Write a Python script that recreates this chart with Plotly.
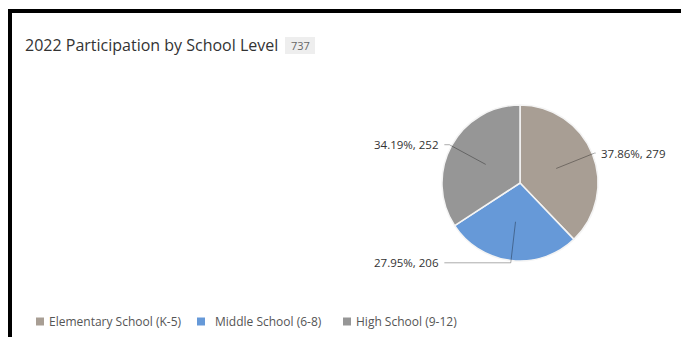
import math
import plotly.graph_objects as go

# ---- data ----
categories = ["Elementary School (K-5)", "Middle School (6-8)", "High School (9-12)"]
participants = [279, 206, 252]
colors = ["#a89e94", "#6699d8", "#969696"]
title_text = "2022 Participation by School Level"

total = sum(participants)

# ---- canvas geometry (pixels) ----
W, H = 681, 337
cx, cy, R = 520, 183, 78          # pie centre and radius
FONT = "Open Sans, Noto Sans, sans-serif"


def px(x):
    return x / W


def py(y):
    return 1 - y / H


fig = go.Figure(
    go.Pie(
        labels=categories,
        values=participants,
        marker=dict(colors=colors, line=dict(color="#f4f4f4", width=1.5)),
        sort=False,
        direction="clockwise",
        rotation=0,
        textinfo="none",
        hovertemplate="%{label}: %{value} (%{percent})<extra></extra>",
        domain=dict(x=[px(cx - R), px(cx + R)], y=[py(cy + R), py(cy - R)]),
        showlegend=False,
    )
)

shapes = []
annotations = []

# ---- leader lines and value labels, placed from each slice's mid-angle ----
cum = 0
for name, v in zip(categories, participants):
    theta = 2 * math.pi * (cum + v / 2) / total
    cum += v
    s, c = math.sin(theta), math.cos(theta)
    x_in, y_in = cx + 0.5 * R * s, cy - 0.5 * R * c
    x_out, y_out = cx + 1.03 * R * s, cy - 1.03 * R * c
    right = s > 0
    x_end = max(x_out, cx + 0.97 * R) if right else min(x_out, cx - 0.97 * R)
    line_style = dict(color="rgba(0,0,0,0.33)", width=1)
    shapes.append(dict(type="path", xref="paper", yref="paper",
                       path=f"M{px(x_in)},{py(y_in)} L{px(x_out)},{py(y_out)} L{px(x_end)},{py(y_out)}",
                       line=line_style))
    pct = 100 * v / total
    annotations.append(dict(
        text=f"{pct:.2f}%, {v}", xref="paper", yref="paper",
        x=px(x_end + (3 if right else -3)), y=py(y_out),
        xanchor="left" if right else "right", yanchor="middle",
        showarrow=False, font=dict(family=FONT, size=11.5, color="#333333"),
    ))

# ---- title and total badge ----
annotations.append(dict(
    text=title_text, xref="paper", yref="paper", x=px(23), y=py(45),
    xanchor="left", yanchor="middle", showarrow=False,
    font=dict(family=FONT, size=16, color="#333333"),
))
shapes.append(dict(type="rect", xref="paper", yref="paper",
                   x0=px(285), x1=px(315), y0=py(54), y1=py(37),
                   fillcolor="#eeeeee", line=dict(width=0), layer="below"))
annotations.append(dict(
    text=str(total), xref="paper", yref="paper", x=px(300), y=py(45.5),
    xanchor="center", yanchor="middle", showarrow=False,
    font=dict(family=FONT, size=11, color="#666666"),
))

# ---- legend ----
legend_box_x = [36, 197, 343]
legend_text_x = [47, 213, 354]
legend_y = 321.5
for name, col, bx, tx in zip(categories, colors, legend_box_x, legend_text_x):
    shapes.append(dict(type="rect", xref="paper", yref="paper",
                       x0=px(bx), x1=px(bx + 8), y0=py(legend_y + 4), y1=py(legend_y - 4),
                       fillcolor=col, line=dict(width=0)))
    annotations.append(dict(
        text=name, xref="paper", yref="paper", x=px(tx), y=py(legend_y),
        xanchor="left", yanchor="middle", showarrow=False,
        font=dict(family=FONT, size=12, color="#555555"),
    ))

# ---- panel frame (top and left edges) ----
shapes.append(dict(type="path", xref="paper", yref="paper",
                   path=f"M{px(10)},{py(H + 5)} L{px(10)},{py(11)} L{px(W + 5)},{py(11)}",
                   line=dict(color="#000000", width=4)))

fig.update_layout(
    width=W, height=H,
    margin=dict(l=0, r=0, t=0, b=0),
    paper_bgcolor="#ffffff", plot_bgcolor="#ffffff",
    shapes=shapes, annotations=annotations,
    font=dict(family=FONT),
)

fig.write_html("out.html", config={"displayModeBar": False})
